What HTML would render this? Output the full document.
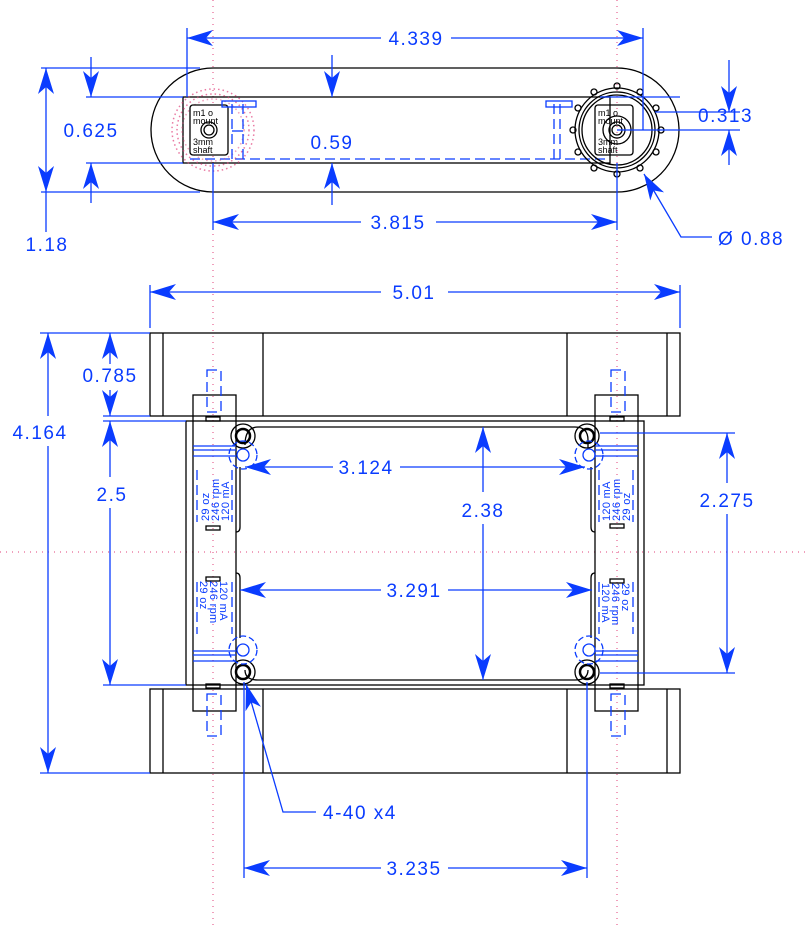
<!DOCTYPE html>
<html><head><meta charset="utf-8"><style>
html,body{margin:0;padding:0;background:#fff}
svg{display:block}
text{font-family:"Liberation Sans",sans-serif;font-size:19px;fill:#0a3cff;font-weight:normal;letter-spacing:1.5px}
.k{stroke:#000;stroke-width:1.3;fill:none}
.b{stroke:#0a3cff;stroke-width:1.3;fill:none}
.bd{stroke:#0a3cff;stroke-width:1.3;fill:none;stroke-dasharray:10 5}
.p{stroke:#e0407a;stroke-width:1;fill:none;stroke-dasharray:1 5}
text.t{font-size:9px;fill:#000;letter-spacing:0}
.tb text{font-size:11px;fill:#0a3cff;letter-spacing:0.3px}
</style></head><body>
<svg width="808" height="926" viewBox="0 0 808 926" xmlns="http://www.w3.org/2000/svg">
<defs>
<marker id="a" markerUnits="userSpaceOnUse" markerWidth="30" markerHeight="20" viewBox="-28 -10 30 20" refX="0" refY="0" orient="auto-start-reverse">
<path d="M0,0 L-26,-8 L-19,0 L-26,8 Z" fill="#0a3cff"/>
</marker>
</defs>
<line class="p" x1="213" y1="0" x2="213" y2="926"/>
<line class="p" x1="617" y1="0" x2="617" y2="926"/>
<line class="p" x1="0" y1="552" x2="808" y2="552"/>

<path class="k" d="M213,68 L617,68 A62,62 0 0 1 617,192 L213,192 A62,62 0 0 1 213,68 Z"/>
<rect class="k" x="183" y="97" width="427" height="66"/>
<line class="bd" x1="190" y1="159" x2="607" y2="159"/>
<circle cx="213" cy="130" r="36" style="stroke:#e0407a;stroke-width:1.5;fill:none;stroke-dasharray:1.5 3;opacity:.7"/>
<circle cx="213" cy="130" r="41" style="stroke:#e0407a;stroke-width:1.5;fill:none;stroke-dasharray:1.5 3;opacity:.7"/>
<circle cx="213" cy="130" r="31" style="stroke:#e0407a;stroke-width:1.5;fill:none;stroke-dasharray:1.5 3;opacity:.5"/>
<rect class="k" x="190" y="105" width="38" height="50" rx="3" style="fill:#fff"/>
<circle class="k" cx="209" cy="130" r="8"/><circle class="k" cx="209" cy="130" r="5"/>
<text class="t" x="193" y="116">m1 o</text><text class="t" x="193" y="124">mount</text>
<text class="t" x="193" y="145">3mm</text><text class="t" x="193" y="153">shaft</text>
<rect class="b" x="222" y="101" width="34" height="6"/>
<line class="bd" x1="232" y1="104" x2="232" y2="160"/><line class="bd" x1="243" y1="104" x2="243" y2="160"/>
<line class="b" x1="232" y1="131" x2="243" y2="131"/>
<circle class="k" cx="617" cy="130" r="42"/><circle class="k" cx="617" cy="130" r="38"/><circle class="k" cx="617" cy="130" r="35"/>
<g class="k">
<circle cx="617" cy="86" r="3"/><circle cx="640" cy="92" r="3"/><circle cx="594" cy="92" r="3"/><circle cx="656" cy="108" r="3"/><circle cx="578" cy="108" r="3"/>
<circle cx="661" cy="130" r="3"/><circle cx="573" cy="130" r="3"/><circle cx="656" cy="152" r="3"/><circle cx="578" cy="152" r="3"/>
<circle cx="640" cy="168" r="3"/><circle cx="594" cy="168" r="3"/><circle cx="617" cy="174" r="3"/>
</g>
<rect class="k" x="595" y="105" width="38" height="50" rx="3"/>
<circle class="k" cx="617" cy="130" r="14"/><circle class="k" cx="617" cy="130" r="8"/><circle class="k" cx="617" cy="130" r="5"/>
<text class="t" x="598" y="116">m1 o</text><text class="t" x="598" y="124">mount</text>
<text class="t" x="598" y="145">3mm</text><text class="t" x="598" y="153">shaft</text>
<rect class="b" x="546" y="101" width="26" height="6"/>
<line class="bd" x1="554" y1="104" x2="554" y2="160"/><line class="bd" x1="560" y1="104" x2="560" y2="160"/>

<line class="b" x1="187" y1="28" x2="187" y2="97"/><line class="b" x1="643" y1="28" x2="643" y2="130"/>
<line class="b" x1="187" y1="38" x2="381" y2="38" marker-start="url(#a)"/><line class="b" x1="451" y1="38" x2="643" y2="38" marker-end="url(#a)"/>
<text x="416" y="45" text-anchor="middle">4.339</text>
<line class="b" x1="41" y1="68" x2="200" y2="68"/><line class="b" x1="41" y1="192" x2="200" y2="192"/>
<line class="b" x1="86" y1="97" x2="183" y2="97"/><line class="b" x1="86" y1="163" x2="183" y2="163"/>
<line class="b" x1="46" y1="68" x2="46" y2="192" marker-start="url(#a)" marker-end="url(#a)"/>
<line class="b" x1="46" y1="192" x2="46" y2="232"/>
<text x="47" y="251" text-anchor="middle">1.18</text>
<line class="b" x1="91" y1="57" x2="91" y2="97" marker-end="url(#a)"/>
<line class="b" x1="91" y1="203" x2="91" y2="163" marker-end="url(#a)"/>
<text x="91" y="137" text-anchor="middle">0.625</text>
<line class="b" x1="332" y1="55" x2="332" y2="97" marker-end="url(#a)"/>
<line class="b" x1="332" y1="205" x2="332" y2="163" marker-end="url(#a)"/>
<text x="332" y="149" text-anchor="middle">0.59</text>
<line class="b" x1="600" y1="97" x2="680" y2="97"/>
<line class="b" x1="617" y1="130" x2="740" y2="130"/><line class="b" x1="655" y1="112" x2="740" y2="112"/>
<line class="b" x1="729" y1="60" x2="729" y2="112" marker-end="url(#a)"/>
<line class="b" x1="729" y1="165" x2="729" y2="130" marker-end="url(#a)"/>
<text x="698" y="122">0.313</text>
<line class="b" x1="213" y1="163" x2="213" y2="230"/><line class="b" x1="617" y1="163" x2="617" y2="230"/>
<line class="b" x1="213" y1="222" x2="361" y2="222" marker-start="url(#a)"/><line class="b" x1="436" y1="222" x2="617" y2="222" marker-end="url(#a)"/>
<text x="398" y="229" text-anchor="middle">3.815</text>
<polyline class="b" points="712,237 681,237 644,174" marker-end="url(#a)"/>
<text x="718" y="245">Ø 0.88</text>

<line class="b" x1="150" y1="285" x2="150" y2="328"/><line class="b" x1="680" y1="285" x2="680" y2="328"/>
<line class="b" x1="150" y1="292" x2="381" y2="292" marker-start="url(#a)"/><line class="b" x1="448" y1="292" x2="680" y2="292" marker-end="url(#a)"/>
<text x="414" y="299" text-anchor="middle">5.01</text>
<rect class="k" x="150" y="333" width="530" height="83"/>
<line class="k" x1="163" y1="333" x2="163" y2="416"/><line class="k" x1="263" y1="333" x2="263" y2="416"/>
<line class="k" x1="567" y1="333" x2="567" y2="416"/><line class="k" x1="667" y1="333" x2="667" y2="416"/>
<rect class="k" x="150" y="689" width="530" height="84"/>
<line class="k" x1="163" y1="689" x2="163" y2="773"/><line class="k" x1="263" y1="689" x2="263" y2="773"/>
<line class="k" x1="567" y1="689" x2="567" y2="773"/><line class="k" x1="667" y1="689" x2="667" y2="773"/>
<rect class="k" x="186" y="421" width="458" height="264"/>
<rect class="k" x="193" y="395" width="43" height="316"/>
<rect class="k" x="595" y="395" width="43" height="316"/>
<path class="k" d="M258,427 L575,427 Q588,427 588,440 L588,448 M588,670 Q588,680 575,680 L258,680 Q245,680 245,670 M245,445 Q245,427 258,427"/>
<path class="k" d="M240,467 L240,527 Q240,532 236,532 M240,578 L240,638 M236,573 Q240,573 240,578"/>
<path class="k" d="M591,467 L591,527 Q591,532 595,532 M591,578 L591,638 M595,573 Q591,573 591,578"/>
<g class="k">
<circle cx="243" cy="436" r="12"/><circle cx="243" cy="436" r="7" style="stroke-width:2.5"/>
<circle cx="587" cy="436" r="12"/><circle cx="587" cy="436" r="7" style="stroke-width:2.5"/>
<circle cx="243" cy="672" r="12"/><circle cx="243" cy="672" r="7" style="stroke-width:2.5"/>
<circle cx="587" cy="672" r="12"/><circle cx="587" cy="672" r="7" style="stroke-width:2.5"/>
</g>
<g class="bd" style="stroke-dasharray:6 3">
<circle cx="243" cy="455" r="14"/><circle cx="589" cy="455" r="14"/><circle cx="243" cy="650" r="14"/><circle cx="589" cy="650" r="14"/>
</g>
<g class="b">
<circle cx="243" cy="455" r="6"/><circle cx="589" cy="455" r="6"/><circle cx="243" cy="650" r="6"/><circle cx="589" cy="650" r="6"/>
</g>
<g class="bd">
<rect x="207" y="370" width="14" height="42"/><rect x="207" y="694" width="14" height="42"/>
<rect x="611" y="370" width="14" height="42"/><rect x="611" y="694" width="14" height="42"/>
<line x1="197" y1="470" x2="197" y2="522"/><line x1="232" y1="470" x2="232" y2="522"/>
<line x1="197" y1="582" x2="197" y2="634"/><line x1="232" y1="582" x2="232" y2="634"/>
<line x1="599" y1="470" x2="599" y2="522"/><line x1="633" y1="470" x2="633" y2="522"/>
<line x1="599" y1="582" x2="599" y2="634"/><line x1="633" y1="582" x2="633" y2="634"/>
</g>
<g class="b">
<line x1="193" y1="446" x2="236" y2="446"/><line x1="193" y1="450" x2="236" y2="450"/><line x1="193" y1="456" x2="236" y2="456"/>
<line x1="193" y1="651" x2="236" y2="651"/><line x1="193" y1="655" x2="236" y2="655"/><line x1="193" y1="661" x2="236" y2="661"/>
<line x1="595" y1="446" x2="638" y2="446"/><line x1="595" y1="450" x2="638" y2="450"/><line x1="595" y1="456" x2="638" y2="456"/>
<line x1="595" y1="651" x2="638" y2="651"/><line x1="595" y1="655" x2="638" y2="655"/><line x1="595" y1="661" x2="638" y2="661"/>
</g>
<g class="k">
<rect x="206" y="417" width="14" height="4"/><rect x="206" y="526" width="14" height="4"/><rect x="206" y="577" width="14" height="4"/><rect x="206" y="684" width="14" height="4"/>
<rect x="610" y="417" width="14" height="4"/><rect x="610" y="524" width="14" height="4"/><rect x="610" y="579" width="14" height="4"/><rect x="610" y="684" width="14" height="4"/>
</g>
<g class="tb">
<text transform="translate(209,521) rotate(-90)">29 oz</text>
<text transform="translate(219,521) rotate(-90)">246 rpm</text>
<text transform="translate(229,521) rotate(-90)">120 mA</text>
<text transform="translate(200,581) rotate(90)">29 oz</text>
<text transform="translate(210,581) rotate(90)">246 rpm</text>
<text transform="translate(220,581) rotate(90)">120 mA</text>
<text transform="translate(622,583) rotate(90)">29 oz</text>
<text transform="translate(612,583) rotate(90)">246 rpm</text>
<text transform="translate(602,583) rotate(90)">120 mA</text>
<text transform="translate(610,521) rotate(-90)">120 mA</text>
<text transform="translate(620,521) rotate(-90)">246 rpm</text>
<text transform="translate(630,521) rotate(-90)">29 oz</text>
</g>
<line class="b" x1="40" y1="333" x2="150" y2="333"/><line class="b" x1="40" y1="773" x2="150" y2="773"/>
<line class="b" x1="48" y1="333" x2="48" y2="416" marker-start="url(#a)"/><line class="b" x1="48" y1="446" x2="48" y2="773" marker-end="url(#a)"/>
<text x="40" y="439" text-anchor="middle">4.164</text>
<line class="b" x1="103" y1="416" x2="150" y2="416"/><line class="b" x1="103" y1="421" x2="186" y2="421"/><line class="b" x1="103" y1="685" x2="186" y2="685"/>
<line class="b" x1="110" y1="364" x2="110" y2="333" marker-end="url(#a)"/>
<line class="b" x1="110" y1="390" x2="110" y2="416" marker-end="url(#a)"/>
<text x="110" y="382" text-anchor="middle">0.785</text>
<line class="b" x1="110" y1="421" x2="110" y2="477" marker-start="url(#a)"/><line class="b" x1="110" y1="508" x2="110" y2="685" marker-end="url(#a)"/>
<text x="112" y="501" text-anchor="middle">2.5</text>
<line class="b" x1="483" y1="427" x2="483" y2="492" marker-start="url(#a)"/><line class="b" x1="483" y1="524" x2="483" y2="680" marker-end="url(#a)"/>
<text x="483" y="517" text-anchor="middle">2.38</text>
<line class="b" x1="600" y1="433" x2="735" y2="433"/><line class="b" x1="600" y1="673" x2="735" y2="673"/>
<line class="b" x1="727" y1="433" x2="727" y2="483" marker-start="url(#a)"/><line class="b" x1="727" y1="514" x2="727" y2="673" marker-end="url(#a)"/>
<text x="727" y="507" text-anchor="middle">2.275</text>
<line class="b" x1="245" y1="467" x2="333" y2="467" marker-start="url(#a)"/><line class="b" x1="400" y1="467" x2="585" y2="467" marker-end="url(#a)"/>
<text x="366" y="474" text-anchor="middle">3.124</text>
<line class="b" x1="240" y1="590" x2="381" y2="590" marker-start="url(#a)"/><line class="b" x1="448" y1="590" x2="592" y2="590" marker-end="url(#a)"/>
<text x="414" y="597" text-anchor="middle">3.291</text>
<line class="b" x1="244" y1="682" x2="244" y2="878"/><line class="b" x1="587" y1="682" x2="587" y2="878"/>
<line class="b" x1="244" y1="868" x2="381" y2="868" marker-start="url(#a)"/><line class="b" x1="448" y1="868" x2="587" y2="868" marker-end="url(#a)"/>
<text x="414" y="875" text-anchor="middle">3.235</text>
<polyline class="b" points="316,812 283,812 246,684" marker-end="url(#a)"/>
<text x="323" y="819">4-40 x4</text>
</svg>
</body></html>
